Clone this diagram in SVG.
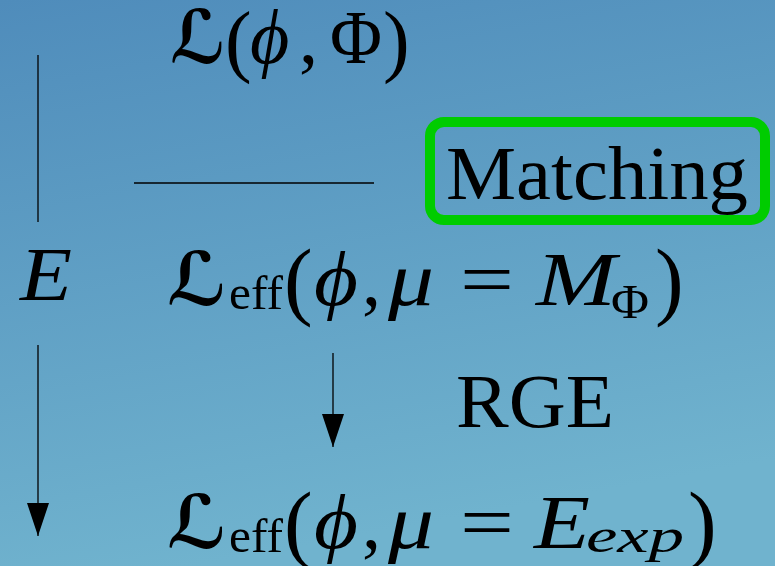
<svg xmlns="http://www.w3.org/2000/svg" width="775" height="566" viewBox="0 0 775 566">
<defs>
<linearGradient id="bg" x1="0" y1="0" x2="0.25" y2="1">
<stop offset="0" stop-color="#4f8cbb"/>
<stop offset="1" stop-color="#70b3ce"/>
</linearGradient>
<marker id="ah" viewBox="0 0 33 22" refX="33" refY="11" markerWidth="33" markerHeight="22" markerUnits="userSpaceOnUse" orient="auto">
<path d="M0,0 L33,11 L0,22 Z" fill="#000"/>
</marker>
</defs>
<style>
.t{font-family:"Liberation Serif","Times New Roman",serif;font-size:76px;fill:#000}
.i{font-style:italic}
.s{font-size:48px}
.p{font-size:86px}
.L{font-family:"DejaVu Serif","DejaVu Sans",serif;font-style:italic;font-weight:bold;font-size:74px}
.ln{stroke:#000;stroke-width:1.3;fill:none}
</style>
<rect width="775" height="566" fill="url(#bg)"/>
<g id="connectors">
<line class="ln" x1="38" y1="55" x2="38" y2="222"/>
<line class="ln" x1="38" y1="345" x2="38" y2="536" marker-end="url(#ah)"/>
<line class="ln" x1="134" y1="183" x2="374" y2="183"/>
<line class="ln" x1="333" y1="353" x2="333" y2="447" marker-end="url(#ah)"/>
</g>
<g id="full-lagrangian">
<text class="t L" x="170" y="63" textLength="56" lengthAdjust="spacingAndGlyphs">ℒ</text>
<text class="t" x="225" y="67" style="font-size:80px">(</text>
<text class="t i" x="250" y="63">ϕ</text>
<text class="t" x="299" y="63">,</text>
<text class="t" x="330" y="63" textLength="52" lengthAdjust="spacingAndGlyphs">Φ</text>
<text class="t" x="383" y="67" style="font-size:80px">)</text>
</g>
<g id="matching">
<rect x="430" y="122" width="335" height="98" rx="14" fill="none" stroke="#00cc00" stroke-width="10"/>
<text class="t" x="446" y="199" textLength="302" lengthAdjust="spacingAndGlyphs">Matching</text>
</g>
<g id="energy-label">
<text class="t i" x="20" y="300" textLength="52" lengthAdjust="spacingAndGlyphs">E</text>
</g>
<g id="eff-matching">
<text class="t L" x="167" y="305" textLength="60" lengthAdjust="spacingAndGlyphs">ℒ</text>
<text class="t s" x="229" y="309" textLength="54" lengthAdjust="spacingAndGlyphs">eff</text>
<text class="t p" x="284" y="309">(</text>
<text class="t i" x="314" y="305" textLength="44" lengthAdjust="spacingAndGlyphs">ϕ</text>
<text class="t" x="362" y="305">,</text>
<text class="t i" x="388" y="305" textLength="46" lengthAdjust="spacingAndGlyphs">μ</text>
<text class="t" x="460" y="305" textLength="54" lengthAdjust="spacingAndGlyphs">=</text>
<text class="t i" x="536" y="305" textLength="80" lengthAdjust="spacingAndGlyphs">M</text>
<text class="t s" x="611" y="318" textLength="38" lengthAdjust="spacingAndGlyphs">Φ</text>
<text class="t p" x="655" y="309">)</text>
</g>
<g id="rge">
<text class="t" x="456" y="427" textLength="158" lengthAdjust="spacingAndGlyphs">RGE</text>
</g>
<g id="eff-exp">
<text class="t L" x="167" y="548" textLength="60" lengthAdjust="spacingAndGlyphs">ℒ</text>
<text class="t s" x="229" y="552" textLength="54" lengthAdjust="spacingAndGlyphs">eff</text>
<text class="t p" x="284" y="552">(</text>
<text class="t i" x="314" y="548" textLength="44" lengthAdjust="spacingAndGlyphs">ϕ</text>
<text class="t" x="362" y="548">,</text>
<text class="t i" x="388" y="548" textLength="46" lengthAdjust="spacingAndGlyphs">μ</text>
<text class="t" x="460" y="548" textLength="54" lengthAdjust="spacingAndGlyphs">=</text>
<text class="t i" x="534" y="548" textLength="56" lengthAdjust="spacingAndGlyphs">E</text>
<text class="t s i" x="586" y="552" textLength="98" lengthAdjust="spacingAndGlyphs">exp</text>
<text class="t p" x="688" y="552">)</text>
</g>
</svg>
